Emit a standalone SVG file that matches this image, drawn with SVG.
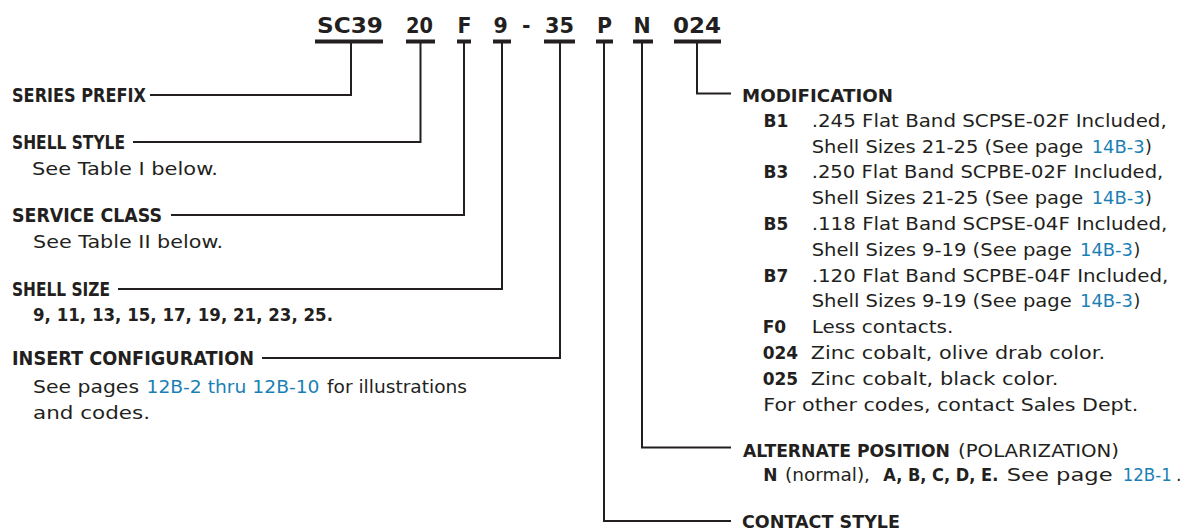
<svg xmlns="http://www.w3.org/2000/svg" width="1185" height="530" viewBox="0 0 1185 530">
<style>
text{fill:#231f20}
.code{font-family:"DejaVu Sans",sans-serif;font-weight:bold;font-size:20.5px}
.lh{font-family:"DejaVu Sans Condensed","DejaVu Sans",sans-serif;font-stretch:condensed;font-weight:bold;font-size:19px}
.rh{font-family:"DejaVu Sans",sans-serif;font-weight:bold;font-size:18px}
.rr{font-family:"DejaVu Sans",sans-serif;font-size:18px}
.b{font-family:"DejaVu Sans",sans-serif;font-size:17.5px}
.bb{font-family:"DejaVu Sans",sans-serif;font-size:17px;font-weight:bold}
.link{fill:#1b7fb6}
.bar{fill:#231f20}
.conn{fill:none;stroke:#231f20;stroke-width:2}
</style>
<g id="part-number">
<text class="code" y="33"><tspan x="317" textLength="66" lengthAdjust="spacingAndGlyphs">SC39</tspan><tspan x="406" textLength="27" lengthAdjust="spacingAndGlyphs">20</tspan><tspan x="457.5">F</tspan><tspan x="493.5">9</tspan><tspan x="522">-</tspan><tspan x="545" textLength="29" lengthAdjust="spacingAndGlyphs">35</tspan><tspan x="597">P</tspan><tspan x="633.5">N</tspan><tspan x="673" textLength="48" lengthAdjust="spacingAndGlyphs">024</tspan></text>
<rect class="bar" x="315" y="39.5" width="68" height="4"/>
<rect class="bar" x="406" y="39.5" width="29" height="4"/>
<rect class="bar" x="457" y="39.5" width="14" height="4"/>
<rect class="bar" x="493" y="39.5" width="18" height="4"/>
<rect class="bar" x="544" y="39.5" width="31" height="4"/>
<rect class="bar" x="596" y="39.5" width="17" height="4"/>
<rect class="bar" x="633" y="39.5" width="20" height="4"/>
<rect class="bar" x="674" y="39.5" width="47" height="4"/>
</g>
<g id="connectors">
<path class="conn" d="M150,95 H351 V43"/>
<path class="conn" d="M133,142 H420.5 V43"/>
<path class="conn" d="M171,215 H464 V43"/>
<path class="conn" d="M118,289 H502 V43"/>
<path class="conn" d="M262,358 H560 V43"/>
<path class="conn" d="M697,43 V93.5 H731"/>
<path class="conn" d="M642,43 V447.5 H731"/>
<path class="conn" d="M604,43 V521 H731"/>
</g>
<g id="series-prefix">
<text class="lh" x="12" y="102" textLength="134" lengthAdjust="spacingAndGlyphs">SERIES PREFIX</text>
</g>
<g id="shell-style">
<text class="lh" x="12" y="149" textLength="113" lengthAdjust="spacingAndGlyphs">SHELL STYLE</text>
<text class="b" x="32" y="175" textLength="186" lengthAdjust="spacingAndGlyphs">See Table I below.</text>
</g>
<g id="service-class">
<text class="lh" x="12" y="222" textLength="150" lengthAdjust="spacingAndGlyphs">SERVICE CLASS</text>
<text class="b" x="33" y="248" textLength="190" lengthAdjust="spacingAndGlyphs">See Table II below.</text>
</g>
<g id="shell-size">
<text class="lh" x="12" y="296" textLength="98" lengthAdjust="spacingAndGlyphs">SHELL SIZE</text>
<text class="bb" x="33" y="321" textLength="300" lengthAdjust="spacingAndGlyphs">9, 11, 13, 15, 17, 19, 21, 23, 25.</text>
</g>
<g id="insert-configuration">
<text class="lh" x="12" y="365" textLength="242" lengthAdjust="spacingAndGlyphs">INSERT CONFIGURATION</text>
<text class="b" y="393"><tspan x="33" textLength="106" lengthAdjust="spacingAndGlyphs">See pages</tspan> <tspan class="link" x="146.5" textLength="173" lengthAdjust="spacingAndGlyphs">12B-2 thru 12B-10</tspan> <tspan x="327" textLength="140" lengthAdjust="spacingAndGlyphs">for illustrations</tspan></text>
<text class="b" x="33" y="419" textLength="117" lengthAdjust="spacingAndGlyphs">and codes.</text>
</g>
<g id="modification">
<text class="rh" x="742" y="101.5" textLength="151" lengthAdjust="spacingAndGlyphs">MODIFICATION</text>
<text class="bb" x="763.5" y="126.7">B1</text>
<text class="b" x="811.7" y="126.7" textLength="355" lengthAdjust="spacingAndGlyphs">.245 Flat Band SCPSE-02F Included,</text>
<text class="b" y="152.5"><tspan x="811.7" textLength="271.6" lengthAdjust="spacingAndGlyphs">Shell Sizes 21-25 (See page</tspan> <tspan class="link" x="1091.7" textLength="53" lengthAdjust="spacingAndGlyphs">14B-3</tspan><tspan x="1145">)</tspan></text>
<text class="bb" x="763.5" y="178.3">B3</text>
<text class="b" x="811.7" y="178.3" textLength="351.6" lengthAdjust="spacingAndGlyphs">.250 Flat Band SCPBE-02F Included,</text>
<text class="b" y="204.1"><tspan x="811.7" textLength="271.6" lengthAdjust="spacingAndGlyphs">Shell Sizes 21-25 (See page</tspan> <tspan class="link" x="1091.7" textLength="53" lengthAdjust="spacingAndGlyphs">14B-3</tspan><tspan x="1145">)</tspan></text>
<text class="bb" x="763.5" y="229.9">B5</text>
<text class="b" x="811.7" y="229.9" textLength="355.6" lengthAdjust="spacingAndGlyphs">.118 Flat Band SCPSE-04F Included,</text>
<text class="b" y="255.7"><tspan x="811.7" textLength="260" lengthAdjust="spacingAndGlyphs">Shell Sizes 9-19 (See page</tspan> <tspan class="link" x="1080" textLength="53" lengthAdjust="spacingAndGlyphs">14B-3</tspan><tspan x="1133.5">)</tspan></text>
<text class="bb" x="763.5" y="281.5">B7</text>
<text class="b" x="811.7" y="281.5" textLength="356.6" lengthAdjust="spacingAndGlyphs">.120 Flat Band SCPBE-04F Included,</text>
<text class="b" y="307.3"><tspan x="811.7" textLength="260" lengthAdjust="spacingAndGlyphs">Shell Sizes 9-19 (See page</tspan> <tspan class="link" x="1080" textLength="53" lengthAdjust="spacingAndGlyphs">14B-3</tspan><tspan x="1133.5">)</tspan></text>
<text class="bb" x="762.7" y="333.1">F0</text>
<text class="b" x="811.7" y="333.1" textLength="141.6" lengthAdjust="spacingAndGlyphs">Less contacts.</text>
<text class="bb" x="762.7" y="358.9">024</text>
<text class="b" x="810.7" y="358.9" textLength="294.3" lengthAdjust="spacingAndGlyphs">Zinc cobalt, olive drab color.</text>
<text class="bb" x="762.7" y="384.7">025</text>
<text class="b" x="810.7" y="384.7" textLength="247.6" lengthAdjust="spacingAndGlyphs">Zinc cobalt, black color.</text>
<text class="b" x="763.3" y="410.5" textLength="375" lengthAdjust="spacingAndGlyphs">For other codes, contact Sales Dept.</text>
</g>
<g id="alternate-position">
<text y="456.5"><tspan class="rh" x="743" textLength="207" lengthAdjust="spacingAndGlyphs">ALTERNATE POSITION</tspan> <tspan class="rr" x="958" textLength="161" lengthAdjust="spacingAndGlyphs">(POLARIZATION)</tspan></text>
<text class="b" y="481"><tspan class="bb" x="763.3">N</tspan> <tspan x="785" textLength="85" lengthAdjust="spacingAndGlyphs">(normal),</tspan> <tspan class="bb" x="883.3" textLength="115" lengthAdjust="spacingAndGlyphs">A, B, C, D, E.</tspan> <tspan x="1006.7" textLength="106" lengthAdjust="spacingAndGlyphs">See page</tspan> <tspan class="link" x="1122.7" textLength="49" lengthAdjust="spacingAndGlyphs">12B-1</tspan><tspan x="1176">.</tspan></text>
</g>
<g id="contact-style">
<text class="rh" x="742" y="527.5" textLength="158" lengthAdjust="spacingAndGlyphs">CONTACT STYLE</text>
</g>
</svg>
